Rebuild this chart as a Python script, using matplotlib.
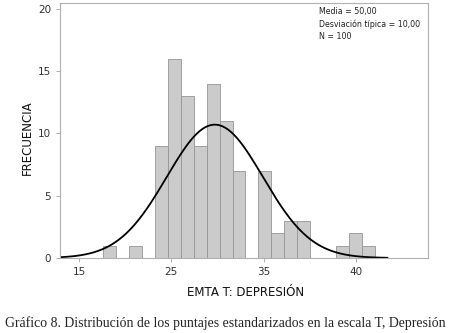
import numpy as np
import matplotlib
matplotlib.use('Agg')
import matplotlib.pyplot as plt

# histogram counts (21 bins, N = 100)
counts = [1, 0, 1, 0, 9, 16, 13, 9, 14, 11, 7, 0, 7, 2, 3, 3, 0, 0, 1, 2, 1]
bin_start = 17.63
bin_width = 1.40

# fitted normal curve drawn over the bars
curve_mean = 29.71
curve_sd = 5.22
curve_from, curve_to = 12.9, 48.4

tick_pos = [15, 25, 35, 45]
tick_labels = ['15', '25', '35', '40']
y_ticks = [0, 5, 10, 15, 20]

stats_text = 'Media = 50,00\nDesviación típica = 10,00\nN = 100'

fig = plt.figure(figsize=(4.49, 3.33), dpi=100)
ax = fig.add_axes([60/449, 1 - 258/333, (428 - 60)/449, (258 - 3)/333])

edges = bin_start + bin_width * np.arange(len(counts))
ax.bar(edges, counts, width=bin_width, align='edge', color='#cbcbcb',
       edgecolor='#959595', linewidth=0.6)

xs = np.linspace(curve_from, curve_to, 300)
ys = sum(counts) * bin_width / (curve_sd * np.sqrt(2 * np.pi)) * \
    np.exp(-0.5 * ((xs - curve_mean) / curve_sd) ** 2)
ax.plot(xs, ys, color='black', linewidth=1.3)

ax.set_xlim(12.94, 52.8)
ax.set_ylim(0, 20.46)
ax.set_xticks(tick_pos)
ax.set_xticklabels(tick_labels)
ax.set_yticks(y_ticks)
for s in ax.spines.values():
    s.set_color('#b0b0b0')
    s.set_linewidth(0.8)
ax.tick_params(axis='both', colors='#b0b0b0', labelcolor='#333333',
               labelsize=7.5, length=3, width=0.7)

ax.text(0.703, 0.985, stats_text, transform=ax.transAxes, fontsize=5.7,
        va='top', ha='left', color='#222222', linespacing=1.45)

fig.text(27/449, 1 - 138/333, 'FRECUENCIA', rotation=90, ha='center',
         va='center', fontsize=8.5, color='#111111')
fig.text(246/449, 1 - 292/333, 'EMTA T: DEPRESIÓN', ha='center', va='center',
         fontsize=8.5, color='#111111')
fig.text(225/449, 1 - 323/333,
         'Gráfico 8. Distribución de los puntajes estandarizados en la escala T, Depresión',
         ha='center', va='center', fontsize=9.95, family='Liberation Serif',
         color='#222222')

fig.savefig('out.png', dpi=100)
